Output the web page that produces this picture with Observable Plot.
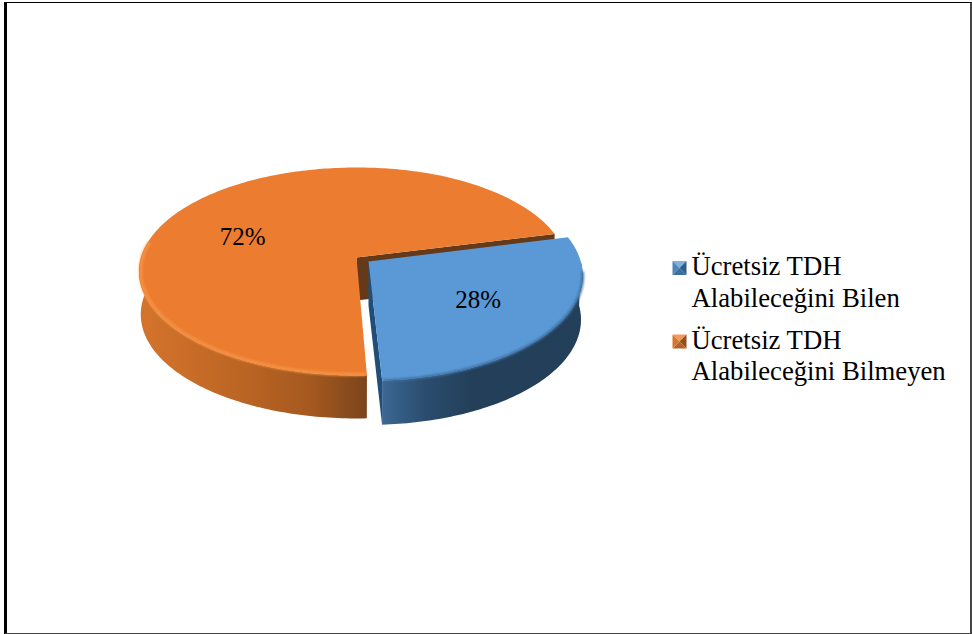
<!DOCTYPE html>
<html>
<head>
<meta charset="utf-8">
<script src="https://cdn.jsdelivr.net/npm/d3@7"></script>
<script src="https://cdn.jsdelivr.net/npm/@observablehq/plot@0.6"></script>
<style>
html,body{margin:0;padding:0;background:#fff;overflow:hidden}
#frame{position:absolute;left:4px;top:2px;width:968px;height:632px;box-sizing:border-box;
  border-left:3px solid #000;border-top:1.5px solid #000;border-right:2px solid #444;border-bottom:1px solid #444}
#chart{position:absolute;left:0;top:0;width:972px;height:634px}
svg{display:block}
</style>
</head>
<body>
<div id="frame"></div>
<div id="chart"></div>
<script>
const categories = [["Ücretsiz TDH", "Alabileceğini Bilen"], ["Ücretsiz TDH", "Alabileceğini Bilmeyen"]];
const values = [28, 72];
const percentLabels = ["28%", "72%"];

// Layout of the tilted disc
const W = 972, H = 634;
const disc = {cx: 356, cy: 257, rx: 215.5, ry: 102.1, k: 0.1346};
const startDeg = -14;
const explode = [
  {dx: 12, dy: 4, sx: 0.985, sy: 1.012, depth: 44},
  {dx: 0, dy: 0, sx: 1, sy: 1, depth: 43}
];
const rad = d => d * Math.PI / 180;
const sweep = values.map(v => v / d3.sum(values) * 360);
const nearTrim = 0.8, farTaper = 0.022;
const spans = [
  [startDeg, startDeg + sweep[0]],
  [startDeg + sweep[0] + nearTrim, startDeg + sweep[0] + sweep[1]]
];

function project(i, deg, f = 1, z = 0) {
  const e = explode[i];
  // the far right of the rear slice's outline runs a little inside the ellipse
  const taper = i === 1 ? 1 - farTaper * Math.max(0, (deg - 296) / 50) : 1;
  const g = f * taper * (1 - 0.008 * z);
  const u = Math.cos(rad(deg)) * g, v = Math.sin(rad(deg)) * f * taper;
  const s = 1 / (1 - disc.k * v);
  return {x: disc.cx + e.dx + disc.rx * e.sx * u * s, y: disc.cy + e.dy + disc.ry * e.sy * v * s + z * e.depth};
}
function arc(i, a0, a1, f = 1, z = 0) {
  const n = Math.ceil(Math.abs(a1 - a0)) + 1;
  return d3.range(n + 1).map(j => project(i, a0 + (a1 - a0) * j / n, f, z));
}
const topFace = i => [project(i, 0, 0), ...arc(i, spans[i][0], spans[i][1]), project(i, 0, 0)];
const outerWall = (i, a0, a1) => [...arc(i, a0, a1), ...arc(i, a1, a0, 1, 1)];
const radialWall = (i, deg) => [project(i, 0, 0), project(i, deg), project(i, deg, 1, 1), project(i, 0, 0, 1)];

const poly = (pts, fill) => Plot.line(pts, {x: "x", y: "y", fill, stroke: "none"});
const soft = (amount) => (index, scales, vals, dims, ctx, next) => {
  const g = next(index, scales, vals, dims, ctx);
  g.style.filter = `blur(${amount}px)`;
  return g;
};
const rim = (pts, stroke, strokeWidth, blur) => Plot.line(pts, {x: "x", y: "y", stroke, strokeWidth, render: soft(blur)});

const defs = () => {
  const svg = d3.create("svg:defs");
  const grad = (id, stops, x2 = 1, y2 = 0) => {
    const g = svg.append("linearGradient").attr("id", id).attr("x1", 0).attr("y1", 0).attr("x2", x2).attr("y2", y2);
    stops.forEach(([o, c]) => g.append("stop").attr("offset", o).attr("stop-color", c));
  };
  grad("orangeWall", [[0, "#d5742c"], [0.45, "#bb6524"], [0.75, "#a5591f"], [1, "#7b441c"]]);
  grad("blueWall", [[0, "#3c6792"], [0.22, "#2a4c6e"], [0.45, "#233f59"], [1, "#233f59"]]);
  return svg.node();
};

// Legend swatches: small bevelled squares
const swatchTop = [260.5, 334], swatchX = 672, swatchSize = 14;
const swatchColors = [
  {left: "#4e86bb", top: "#7fb0de", right: "#2f5d87", bottom: "#3b6f9f"},
  {left: "#d97428", top: "#f39a58", right: "#94501c", bottom: "#b4622a"}
];
function swatch(i) {
  const x0 = swatchX, x1 = swatchX + swatchSize, y0 = swatchTop[i], y1 = y0 + swatchSize;
  const m = {x: (x0 + x1) / 2, y: (y0 + y1) / 2}, c = swatchColors[i];
  const A = {x: x0, y: y0}, B = {x: x1, y: y0}, C = {x: x1, y: y1}, D = {x: x0, y: y1};
  return [poly([A, B, m, A], c.top), poly([B, C, m, B], c.right), poly([C, D, m, C], c.bottom), poly([D, A, m, D], c.left)];
}

const legendRows = categories.flatMap((lines, i) => lines.map((text, j) => ({
  text, x: 691, y: [[274, 306], [348, 379]][i][j]
})));

// Percent labels sit at 60% of the radius along each slice's middle, with a small nudge
const labelNudge = [{dx: 2, dy: 0}, {dx: -15, dy: 14.4}];
const percentRows = percentLabels.map((text, i) => ({text, ...project(i, (spans[i][0] + spans[i][1]) / 2, 0.6), ...labelNudge[i]}));

const plot = Plot.plot({
  width: W, height: H,
  margin: 0,
  x: {domain: [0, W], range: [0, W], axis: null},
  y: {domain: [0, H], range: [0, H], axis: null},
  style: {background: "transparent", overflow: "visible"},
  marks: [
    defs,
    // orange slice
    poly(outerWall(1, spans[1][0], 186), "url(#orangeWall)"),
    poly(radialWall(1, spans[1][1]), "#653a1a"),
    poly(topFace(1), "#eb7c30"),
    rim(arc(1, spans[1][0] + 0.5, 188, 0.992), "#f49043", 3.5, 1),
    // blue slice
    poly(outerWall(0, 0, spans[0][1]), "url(#blueWall)"),
    poly(radialWall(0, spans[0][1]), "#1f4e79"),
    poly(topFace(0), "#5a99d6"),
    rim(arc(0, 6, spans[0][1] - 0.5, 1), "#3c6c9b", 2.5, 1),
    // labels
    ...percentRows.map(d => Plot.text([d], {x: "x", y: "y", text: "text", dx: d.dx, dy: d.dy, fontSize: 25, fontFamily: "Liberation Serif", fill: "#000"})),
    // legend
    ...swatch(0), ...swatch(1),
    Plot.text(legendRows, {x: "x", y: "y", text: "text", textAnchor: "start", lineAnchor: "bottom", dy: 0, fontSize: 26.7, fontFamily: "Liberation Serif", fill: "#000"})
  ]
});
document.getElementById("chart").append(plot);
</script>
</body>
</html>
